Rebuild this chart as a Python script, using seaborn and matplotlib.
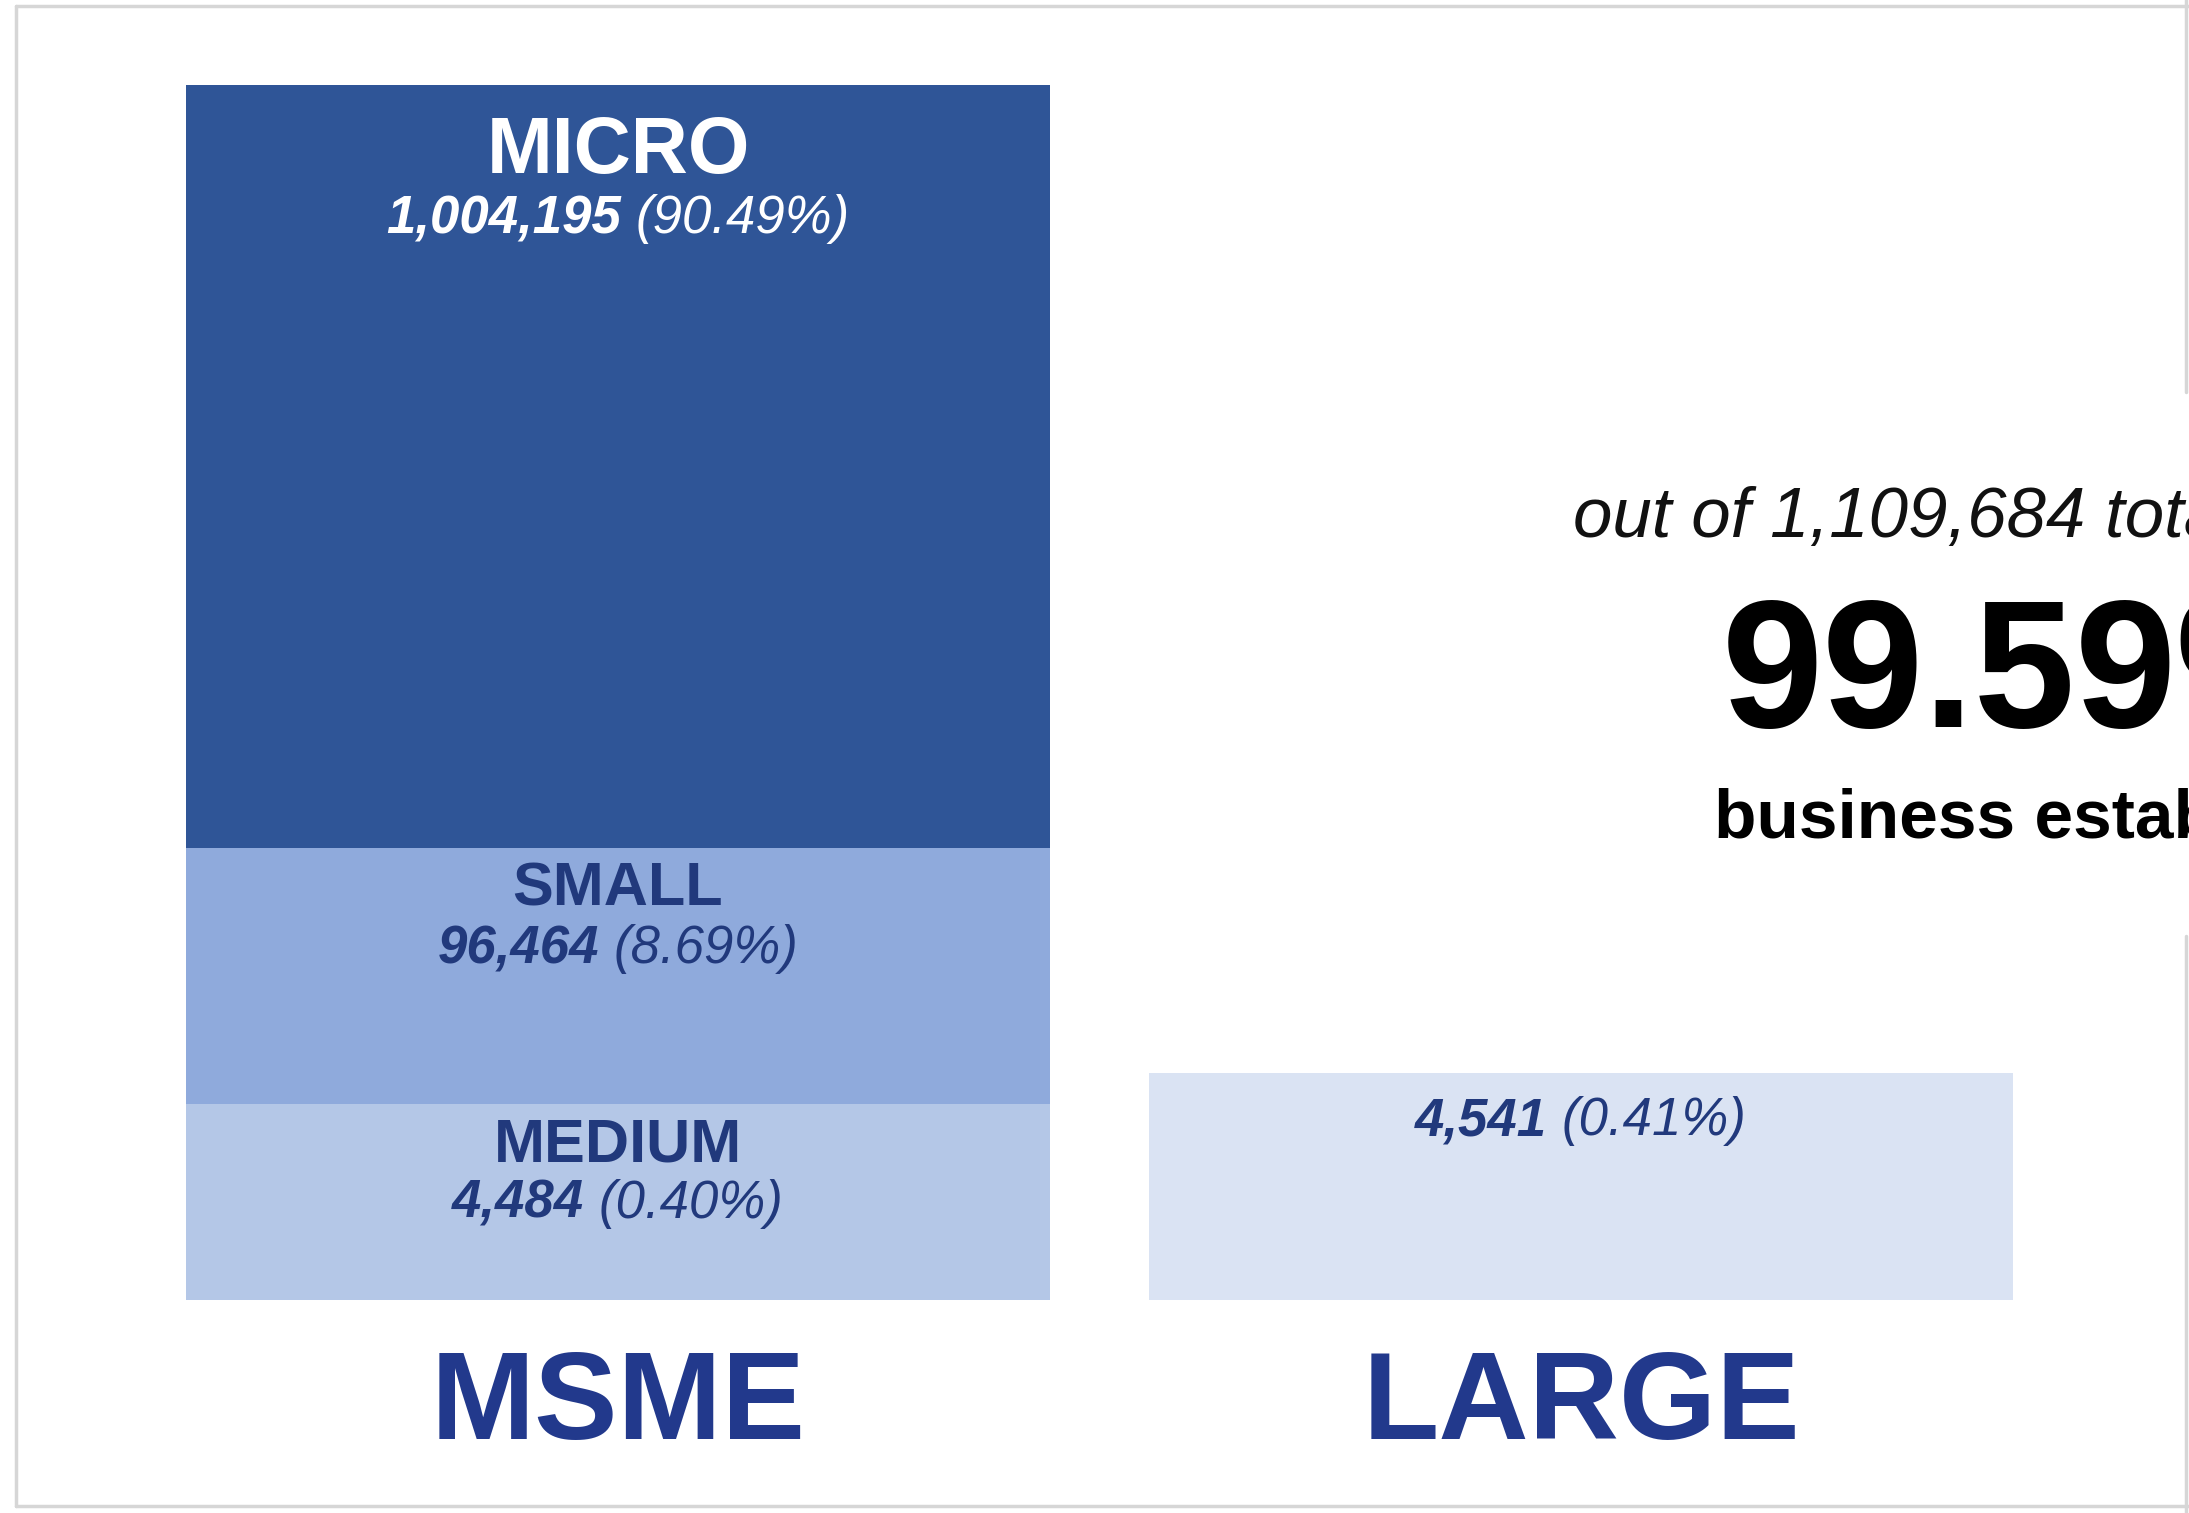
import numpy as np
import pandas as pd
import matplotlib.pyplot as plt
import seaborn as sns
from matplotlib.lines import Line2D
from matplotlib.transforms import IdentityTransform

categories = ["MSME", "LARGE"]
groups = ["MSME", "MSME", "MSME", "LARGE"]
segments = ["MICRO", "SMALL", "MEDIUM", "LARGE"]
counts = [1004195, 96464, 4484, 4541]
shares = [90.49, 8.69, 0.40, 0.41]
# the blocks are not drawn to scale in the original, these are their drawn heights
block_height = [763, 256, 196, 227]
total_count = 1109684
msme_share = 99.59

W, H = 2189, 1513
BASE = 1300          # pixel row of the bar baseline
TOP = 84             # pixel row of the top of the MSME bar

palette = {"MICRO": "#2F5597", "SMALL": "#8FAADC", "MEDIUM": "#B4C7E7", "LARGE": "#DAE3F3"}
navy = "#21397C"
label_blue = "#22398C"

# per-segment text layout (pixel offsets below the block top)
style = {
    "MICRO":  dict(name=True,  name_size=57, name_dy=88, value_dy=148, color="white"),
    "SMALL":  dict(name=True,  name_size=44, name_dy=58, value_dy=115, color=navy),
    "MEDIUM": dict(name=True,  name_size=44, name_dy=57, value_dy=114, color=navy),
    "LARGE":  dict(name=False, name_size=44, name_dy=0,  value_dy=62,  color=navy),
}
value_size = 38

sns.set_theme(style="white")
plt.rcParams['font.family'] = ['Liberation Sans', 'DejaVu Sans']

fig = plt.figure(figsize=(W / 100, H / 100), dpi=100, facecolor="white")
ax = fig.add_axes([0, (H - BASE) / H, 1, (BASE - TOP) / H])
ax.set_facecolor("none")

df = pd.DataFrame({"group": groups, "segment": segments, "count": counts,
                   "share": shares, "height": block_height})
df["top"] = df[::-1].groupby("group")["height"].cumsum()

# stacked look: draw tallest cumulative block first, then overlay the lower ones
for _, row in df.sort_values("top", ascending=False).iterrows():
    sns.barplot(x=[row["group"]], y=[row["top"]], order=categories,
                color=palette[row["segment"]], saturation=1, width=0.897,
                errorbar=None, linewidth=0, ax=ax)

spacing = 963
left = -618 / spacing
ax.set_xlim(left, left + W / spacing)
ax.set_ylim(0, BASE - TOP)
ax.set_yticks([])
ax.set_xlabel("")
ax.set_ylabel("")
ax.set_xticks(range(len(categories)))
ax.set_xticklabels(categories, fontsize=90, fontweight="bold", color=label_blue)
ax.tick_params(axis="x", length=0, pad=35)
sns.despine(ax=ax, left=True, bottom=True)

renderer = fig.canvas.get_renderer()
ident = IdentityTransform()


def value_line(xc, yb, count, share, color):
    t1 = fig.text(0, yb, f"{count:,}", transform=ident, fontsize=value_size,
                  fontweight="bold", fontstyle="italic", color=color,
                  ha="left", va="baseline")
    t2 = fig.text(0, yb, f"({share:.2f}%)", transform=ident, fontsize=value_size,
                  fontstyle="italic", color=color, ha="left", va="baseline")
    gap = 0.278 * value_size * 100 / 72
    w1 = t1.get_window_extent(renderer).width
    w2 = t2.get_window_extent(renderer).width
    start = xc - (w1 + gap + w2) / 2
    t1.set_x(start)
    t2.set_x(start + w1 + gap)


for _, row in df.iterrows():
    st = style[row["segment"]]
    xi = categories.index(row["group"])
    xc, ytop = ax.transData.transform((xi, row["top"]))
    if st["name"]:
        fig.text(xc, ytop - st["name_dy"], row["segment"], transform=ident,
                 fontsize=st["name_size"], fontweight="bold", color=st["color"],
                 ha="center", va="baseline")
    value_line(xc, ytop - st["value_dy"], row["count"], row["share"], st["color"])

# headline text on the right (cut off by the frame edge in the original)
fig.text(1573, H - 537, f"out of {total_count:,} total", transform=ident,
         fontsize=51, fontstyle="italic", color="#111111", ha="left", va="baseline")
fig.text(1722, H - 727, f"{msme_share:.2f}%", transform=ident,
         fontsize=131, fontweight="bold", color="black", ha="left", va="baseline")
fig.text(1714, H - 837, "business establishments", transform=ident,
         fontsize=50, fontweight="bold", color="black", ha="left", va="baseline")

# light grey frame around the panel
frame = "#D6D6D6"
for xs, ys in [([16, W], [6, 6]), ([16, 16], [6, 1506]), ([16, W], [1506, 1506]),
               ([2186, 2186], [0, 392]), ([2186, 2186], [936, H])]:
    fig.add_artist(Line2D(xs, [H - y for y in ys], transform=ident,
                          color=frame, linewidth=2.5))

fig.savefig("out.png", dpi=100, facecolor="white")
